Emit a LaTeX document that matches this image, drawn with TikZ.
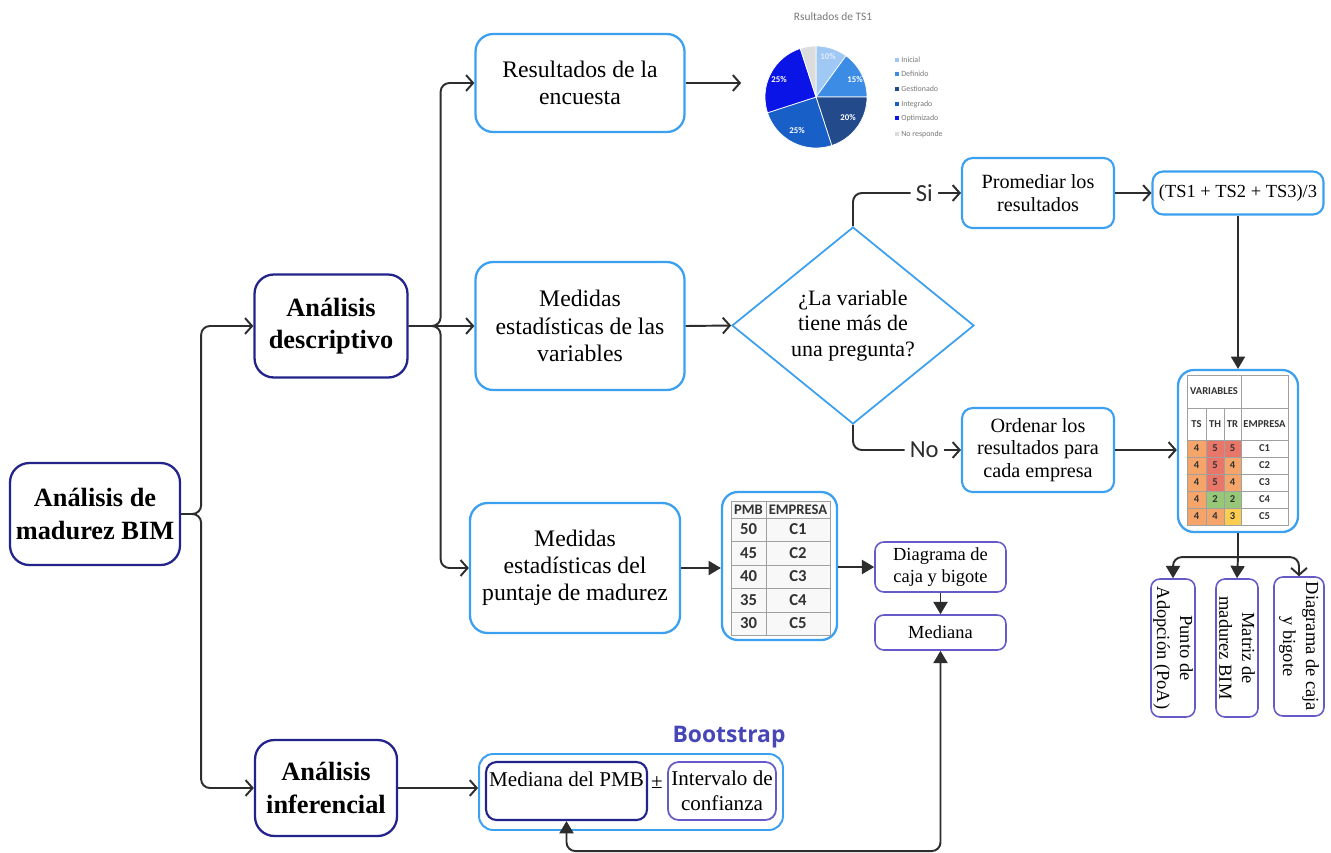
\documentclass[tikz,border=0pt]{standalone}
\usepackage{fontspec}
\setmainfont{Liberation Serif}
\newfontfamily\sansf{Carlito}
\newfontfamily\headf{Open Sans}
\usetikzlibrary{shapes.geometric,arrows.meta}

\definecolor{navy}{RGB}{35,35,140}
\definecolor{skyb}{RGB}{60,160,240}
\definecolor{lilac}{RGB}{100,90,200}
\definecolor{ink}{RGB}{45,45,45}
\definecolor{gridc}{RGB}{160,160,160}
\definecolor{cellbg}{RGB}{248,248,248}
\definecolor{tabtext}{RGB}{50,50,50}
\definecolor{bootc}{RGB}{70,70,185}
% heat-map cells
\definecolor{hOrange}{RGB}{245,165,105}
\definecolor{hRed}{RGB}{232,118,105}
\definecolor{hGreen}{RGB}{150,200,120}
\definecolor{hYellow}{RGB}{250,205,80}
% pie slices
\definecolor{pIni}{RGB}{160,200,245}
\definecolor{pDef}{RGB}{60,140,230}
\definecolor{pGes}{RGB}{35,75,140}
\definecolor{pInt}{RGB}{25,95,200}
\definecolor{pOpt}{RGB}{10,20,230}
\definecolor{pNo}{RGB}{220,220,220}
\definecolor{chartgray}{RGB}{120,120,120}

\begin{document}
\begin{tikzpicture}[x=0.02cm,y=-0.02cm,
  box/.style={draw, align=center, inner sep=0pt, text=black},
  navybox/.style={box, draw=navy, line width=1.3pt, rounded corners=11pt,
    font=\fontsize{15}{18.5}\selectfont\bfseries},
  bluebox/.style={box, draw=skyb, line width=1.3pt, rounded corners=10pt,
    font=\fontsize{13.5}{15.5}\selectfont},
  stepbox/.style={box, draw=skyb, line width=1.2pt, rounded corners=6pt,
    font=\fontsize{11.5}{13}\selectfont},
  lilacbox/.style={box, draw=lilac, line width=0.9pt, rounded corners=5pt,
    font=\fontsize{10.5}{12.5}\selectfont},
  rotbox/.style={box, draw=lilac, line width=0.9pt, rounded corners=5pt, rotate=-90,
    font=\fontsize{10.5}{13}\selectfont},
  conn/.style={draw=ink, line width=1.1pt, rounded corners=5pt},
  barb/.style={-{Straight Barb[length=4pt,width=9pt]}},
  tri/.style={-{Triangle[length=7pt,width=8pt]}},
  cellline/.style={draw=gridc, line width=0.5pt},
  tabA/.style={font=\sansf\bfseries\fontsize{9.5}{11}\selectfont, text=tabtext, inner sep=0pt},
  tabH/.style={font=\sansf\bfseries\fontsize{8.3}{10}\selectfont, text=tabtext, inner sep=0pt},
  tabB/.style={font=\sansf\bfseries\fontsize{6}{7}\selectfont, text=tabtext, inner sep=0pt},
  lbl/.style={font=\sansf\fontsize{14}{16}\selectfont, fill=white, inner sep=3pt, text=ink},
  pct/.style={font=\sansf\bfseries\fontsize{5}{6}\selectfont, text=white, inner sep=0pt},
  leg/.style={font=\sansf\fontsize{4.5}{5}\selectfont, text=chartgray, inner sep=0pt, anchor=west},
]
\useasboundingbox (0,0) rectangle (1331,852);
\fill[white] (0,0) rectangle (1331,852);

% ---------- main boxes ----------
\node[navybox, minimum width=3.4cm, minimum height=2.04cm] (bim) at (95,514) {Análisis de\\madurez BIM};
\node[navybox, minimum width=3.06cm, minimum height=2.06cm] (desc) at (331,326) {Análisis\\descriptivo};
\node[navybox, minimum width=2.84cm, minimum height=1.92cm] (inf) at (326,788) {Análisis\\inferencial};

\node[bluebox, minimum width=4.18cm, minimum height=1.96cm] (res) at (580,83) {Resultados de la\\encuesta};
\node[bluebox, minimum width=4.18cm, minimum height=2.56cm] (medv) at (580,326) {Medidas\\estadísticas de las\\variables};
\node[bluebox, minimum width=4.2cm, minimum height=2.6cm] (punt) at (575,568) {Medidas\\estadísticas del\\puntaje de madurez};

\node[diamond, aspect=1.23, draw=skyb, line width=1.0pt, inner sep=0pt, align=center,
  minimum width=4.84cm, minimum height=3.94cm, font=\fontsize{12.5}{14.5}\selectfont] (dia) at (853,325.5)
  {¿La variable\\tiene más de\\una pregunta?};

\node[stepbox, minimum width=3.04cm, minimum height=1.4cm] (prom) at (1038,193) {Promediar los\\resultados};
\node[stepbox, minimum width=3.42cm, minimum height=0.86cm, font=\fontsize{10.5}{12}\selectfont] (ts) at (1238,193) {(TS1 + TS2 + TS3)/3};
\node[stepbox, minimum width=3.04cm, minimum height=1.68cm] (ord) at (1038,450) {Ordenar los\\resultados para\\cada empresa};

\node[lilacbox, minimum width=2.62cm, minimum height=1.0cm] (diag) at (940.5,567) {Diagrama de\\caja y bigote};
\node[lilacbox, minimum width=2.62cm, minimum height=0.7cm] (med) at (940.5,632.5) {Mediana};

\node[rotbox, minimum width=2.76cm, minimum height=0.88cm] (poa) at (1173,648) {Punto de\\Adopción (PoA)};
\node[rotbox, minimum width=2.76cm, minimum height=0.84cm] (mat) at (1237,648) {Matriz de\\madurez BIM};
\node[rotbox, minimum width=2.78cm, minimum height=1.0cm] (dcb) at (1299,646.5) {Diagrama de caja\\y bigote};

% ---------- bootstrap group ----------
\node[font=\headf\bfseries\fontsize{13}{15}\selectfont, text=bootc, inner sep=0pt] (bootlbl) at (729,737) {Bootstrap};
\node[box, draw=skyb, line width=1.1pt, rounded corners=8pt, minimum width=6.08cm, minimum height=1.52cm] (boot) at (631,792) {};
\node[box, draw=navy, line width=1.2pt, rounded corners=6pt, minimum width=3.22cm, minimum height=1.16cm,
  font=\fontsize{12}{14}\selectfont] (mpmb) at (566.5,791) {Mediana del PMB\\\mbox{}};
\node[box, draw=lilac, line width=1.0pt, rounded corners=6pt, minimum width=2.16cm, minimum height=1.16cm,
  font=\fontsize{12}{14}\selectfont] (intc) at (722,791) {Intervalo de\\confianza};
\node[font=\fontsize{12}{14}\selectfont, inner sep=0pt] (pm) at (657,783) {±};

% ---------- PMB table ----------
\node[box, draw=skyb, line width=1.3pt, rounded corners=9pt, minimum width=2.3cm, minimum height=2.96cm] (pmbtab) at (779.5,566) {};
\fill[cellbg] (731,501) rectangle (830,635);
\draw[cellline] (731,501) rectangle (830,635);
\draw[cellline] (766,501) -- (766,635);
\foreach \yy in {518,541,565,588,612} \draw[cellline] (731,\yy) -- (830,\yy);
\node[tabH] (hpmb) at (748.5,509.5) {PMB};
\node[tabH] (hemp) at (798,509.5) {EMPRESA};
\foreach \v/\c/\yy in {50/C1/529.5,45/C2/553,40/C3/576.5,35/C4/600,30/C5/623.5} {
  \node[tabA] (pv\c) at (748.5,\yy) {\v};
  \node[tabA] (pc\c) at (798,\yy) {\c};
}

% ---------- variables table ----------
\node[box, draw=skyb, line width=1.3pt, rounded corners=9pt, minimum width=2.4cm, minimum height=3.24cm] (vartab) at (1238,451) {};
\fill[white] (1187,375) rectangle (1288,525);
\foreach \a/\b/\cc/\yy in {
  hOrange/hRed/hRed/440, hOrange/hRed/hOrange/457, hOrange/hRed/hOrange/474,
  hOrange/hGreen/hGreen/491, hOrange/hOrange/hYellow/508} {
  \fill[\a] (1187,\yy) rectangle (1206,\yy+17);
  \fill[\b] (1206,\yy) rectangle (1224,\yy+17);
  \fill[\cc] (1224,\yy) rectangle (1241,\yy+17);
}
\draw[cellline] (1187,375) rectangle (1288,525);
\foreach \yy in {408,440,457,474,491,508} \draw[cellline] (1187,\yy) -- (1288,\yy);
\draw[cellline] (1241,375) -- (1241,525);
\draw[cellline] (1206,408) -- (1206,525);
\draw[cellline] (1224,408) -- (1224,525);
\node[tabB] (hvar) at (1214,391.5) {VARIABLES};
\node[tabB] (hts) at (1196.5,424) {TS};
\node[tabB] (hth) at (1215,424) {TH};
\node[tabB] (htr) at (1232.5,424) {TR};
\node[tabB] (hve) at (1264.5,424) {EMPRESA};
\foreach \p/\q/\s/\c/\yy in {4/5/5/C1/448.5, 4/5/4/C2/465.5, 4/5/4/C3/482.5, 4/2/2/C4/499.5, 4/4/3/C5/516.5} {
  \node[tabB] (vs\c) at (1196.5,\yy) {\p};
  \node[tabB] (vh\c) at (1215,\yy) {\q};
  \node[tabB] (vr\c) at (1232.5,\yy) {\s};
  \node[tabB] (ve\c) at (1264.5,\yy) {\c};
}

% ---------- pie chart ----------
\node[minimum width=4.26cm, minimum height=2.8cm, inner sep=0pt] (chart) at (848,83) {};
\node[font=\sansf\fontsize{6.5}{7}\selectfont, text=chartgray, inner sep=0pt] (ctitle) at (833,17) {Rsultados de TS1};
\coordinate (pc) at (816,97);
\foreach \s/\e/\col in {-90/-54/pIni, -54/0/pDef, 0/72/pGes, 72/162/pInt, 162/252/pOpt, 252/270/pNo}
  \filldraw[fill=\col, draw=white, line width=0.4pt] (pc) -- ++(\s:51) arc[start angle=\s, end angle=\e, radius=51] -- cycle;
\node[pct, text=white!70!pIni] (l0) at (828,57) {10\%};
\node[pct] (l2) at (855,80) {15\%};
\node[pct] (l3) at (848,118) {20\%};
\node[pct] (l4) at (797,131) {25\%};
\node[pct] (l5) at (779,80) {25\%};
\foreach \col/\t/\yy [count=\k] in {pIni/Inicial/60, pDef/Definido/74, pGes/Gestionado/89,
  pInt/Integrado/104, pOpt/Optimizado/118, pNo/No responde/134} {
  \fill[\col] (895,\yy-2) rectangle (899,\yy+2);
  \node[leg] (lg\k) at (901,\yy) {\t};
}

% ---------- connectors ----------
\draw[conn,barb] (bim.east) -- ++(20,0) |- (desc.west);
\draw[conn,barb] (bim.east) -- ++(20,0) |- (inf.west);
\draw[conn,barb] (desc.east) -- ++(32,0) |- (res.west);
\draw[conn,barb] (desc.east) -- (medv.west);
\draw[conn,barb] (desc.east) -- ++(32,0) |- (punt.west);
\draw[conn,barb] (res.east) -- (chart.west);
\draw[conn,barb] (medv.east) -- (dia.west);
\draw[conn,barb] (dia.north) |- node[lbl, pos=0.83] {Si} (prom.west);
\draw[conn,barb] (dia.south) |- node[lbl, pos=0.83] {No} (ord.west);
\draw[conn,barb] (prom.east) -- (ts.west);
\draw[conn,tri] (ts.south) -- (vartab.north);
\draw[conn,barb] (ord.east) -- (ord.east -| vartab.west);
\draw[conn] (vartab.south) -- ++(0,24) coordinate (br);
\draw[conn,tri] (br) -| (poa.west);
\draw[conn,tri] (br) -- (mat.west);
\draw[conn,barb] (br) -| (dcb.west);
\draw[conn,tri] (punt.east) -- (punt.east -| pmbtab.west);
\draw[conn,tri] (diag.west -| pmbtab.east) -- (diag.west);
\draw[conn,tri] (diag.south) -- (med.north);
\draw[conn,barb] (inf.east) -- (inf.east -| boot.west);
\draw[conn,{Triangle[length=7pt,width=8pt]}-{Triangle[length=7pt,width=8pt]}] (mpmb.south) -- ++(0,30) -| (med.south);
\end{tikzpicture}
\end{document}
